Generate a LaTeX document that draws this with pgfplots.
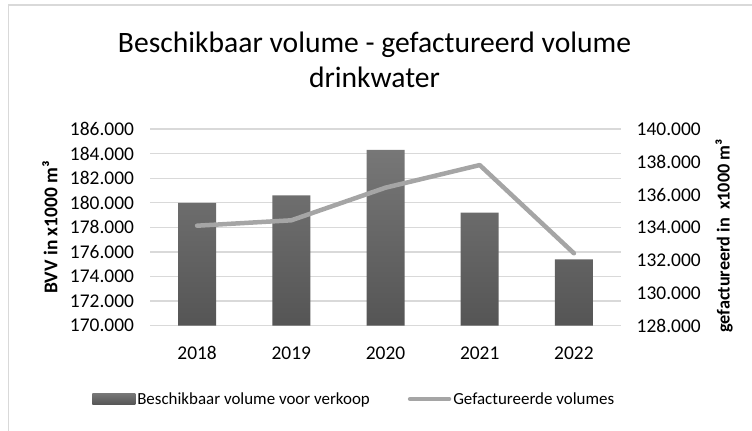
\documentclass[border=0pt]{standalone}
\usepackage{fontspec}
\setmainfont{Carlito}
\usepackage{pgfplots}
\pgfplotsset{compat=1.18}
\definecolor{barTop}{HTML}{777777}
\definecolor{barBot}{HTML}{555555}
\definecolor{lineC}{HTML}{A5A5A5}
\definecolor{gridC}{HTML}{D9D9D9}
\begin{document}
\begin{tikzpicture}[x=1bp,y=1bp]
\useasboundingbox (0,0) rectangle (752,430);
\draw[gridC, line width=1.2bp] (8.5,-5) -- (8.5,425) -- (760,425);
\node[anchor=base, font=\fontsize{29.7}{34}\selectfont] at (374.5,377.3) {Beschikbaar volume - gefactureerd volume};
\node[anchor=base, font=\fontsize{29.7}{34}\selectfont] at (374.5,343) {drinkwater};
\begin{axis}[
  at={(150bp,104.3bp)}, anchor=south west, scale only axis,
  width=471bp, height=196.7bp,
  xmin=-0.5, xmax=4.5, ymin=170000, ymax=186000,
  scaled y ticks=false,
  xtick={0,1,2,3,4}, xticklabels={2018,2019,2020,2021,2022},
  ytick={170000,172000,174000,176000,178000,180000,182000,184000,186000},
  yticklabels={170.000,172.000,174.000,176.000,178.000,180.000,182.000,184.000,186.000},
  axis line style={draw=none}, major tick length=0pt,
  ymajorgrids, grid style={gridC, line width=1.3bp},
  tick label style={font=\fontsize{19.5}{23}\selectfont},
  xticklabel style={anchor=base, yshift=-33.3bp},
  yticklabel style={anchor=east, xshift=-12.5bp},
  ylabel={\textbf{BVV in x1000 m³}},
  ylabel style={at={(axis description cs:-0.2123,0.5)}, anchor=center, font=\fontsize{19.5}{23}\selectfont},
]
\addplot[ybar, bar width=38bp, draw=none, top color=barTop, bottom color=barBot]
  coordinates {(0,180000) (1,180600) (2,184300) (3,179200) (4,175400)};
\end{axis}
\begin{axis}[
  at={(150bp,104.3bp)}, anchor=south west, scale only axis,
  width=471bp, height=196.7bp,
  xmin=-0.5, xmax=4.5, ymin=128000, ymax=140000,
  scaled y ticks=false,
  axis x line=none, axis y line*=right,
  ytick={128000,130000,132000,134000,136000,138000,140000},
  yticklabels={128.000,130.000,132.000,134.000,136.000,138.000,140.000},
  axis line style={draw=none}, major tick length=0pt,
  tick label style={font=\fontsize{19.5}{23}\selectfont},
  yticklabel style={anchor=west, xshift=12.2bp},
  legend columns=2,
  legend style={at={(axis description cs:-0.123,-0.3727)}, anchor=west, draw=none, fill=none,
    inner sep=0pt, font=\fontsize{17}{20}\selectfont, cells={anchor=west},
    /tikz/every even column/.append style={column sep=36bp}},
]
\addlegendimage{legend image code/.code={\path[draw=none, top color=barTop, bottom color=barBot] (0bp,-5.5bp) rectangle (43bp,5.5bp);}}
\addlegendentry{Beschikbaar volume voor verkoop}
\addplot[lineC, line width=4.5bp, line cap=round, line join=round,
  legend image code/.code={\draw[lineC, line width=4.5bp, line cap=round] (2bp,0bp) -- (41bp,0bp);}]
  coordinates {(0,134100) (1,134430) (2,136420) (3,137800) (4,132420)};
\addlegendentry{Gefactureerde volumes}
\end{axis}
\node[rotate=90, anchor=center, font=\fontsize{18.3}{22}\selectfont\bfseries] at (724,194) {gefactureerd in\ \ x1000 m³};
\end{tikzpicture}
\end{document}
